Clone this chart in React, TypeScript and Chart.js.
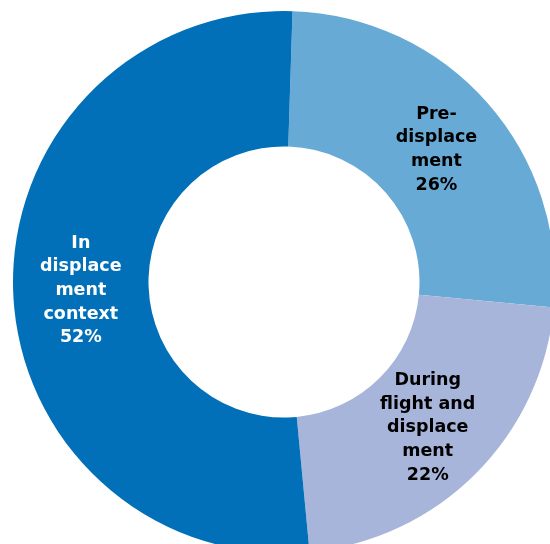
import React, { useEffect, useRef } from "react";
import { Chart, registerables } from "chart.js";

Chart.register(...registerables);

const categories: string[] = [
  "Pre-displacement",
  "During flight and displacement",
  "In displacement context",
];
const labelLines: string[][] = [
  ["Pre-", "displace", "ment"],
  ["During", "flight and", "displace", "ment"],
  ["In", "displace", "ment", "context"],
];
const shares: number[] = [26, 22, 52];
const sliceColors: string[] = ["#68AAD6", "#A8B5DA", "#0270B8"];
const labelColors: string[] = ["#000000", "#000000", "#FFFFFF"];

const SIZE = 542;
const CX = 284;
const CY = 282;

const labelPlugin = {
  id: "sliceLabels",
  afterDatasetsDraw(chart: any) {
    const ctx = chart.ctx;
    const meta = chart.getDatasetMeta(0);
    const values = chart.data.datasets[0].data as number[];
    ctx.save();
    ctx.font = "bold 17.5px 'DejaVu Sans', Verdana, sans-serif";
    ctx.textAlign = "center";
    ctx.textBaseline = "middle";
    const lh = 23.7;
    meta.data.forEach((arc: any, i: number) => {
      const p = arc.getCenterPoint();
      const lines = [...labelLines[i], `${values[i]}%`];
      const y0 = p.y + 2 - ((lines.length - 1) * lh) / 2;
      ctx.fillStyle = labelColors[i];
      lines.forEach((t, j) => ctx.fillText(t, p.x, y0 + j * lh));
    });
    ctx.restore();
  },
};

export default function App() {
  const ref = useRef<HTMLCanvasElement | null>(null);
  useEffect(() => {
    if (!ref.current) return;
    const chart = new Chart(ref.current, {
      type: "doughnut",
      data: {
        labels: categories,
        datasets: [
          {
            data: shares,
            backgroundColor: sliceColors,
            borderWidth: 0,
            hoverOffset: 0,
            offset: 0,
          },
        ],
      },
      options: {
        responsive: false,
        animation: false,
        rotation: 1.8,
        cutout: "50%",
        layout: { padding: 0 },
        events: [],
        plugins: {
          legend: { display: false },
          tooltip: { enabled: false },
          title: { display: false },
        },
      },
      plugins: [labelPlugin],
    });
    return () => chart.destroy();
  }, []);

  return (
    <div
      style={{
        position: "fixed",
        left: 0,
        top: 0,
        width: 550,
        height: 544,
        overflow: "hidden",
        background: "#ffffff",
      }}
    >
      <canvas
        ref={ref}
        width={SIZE}
        height={SIZE}
        style={{
          position: "absolute",
          left: CX - SIZE / 2,
          top: CY - SIZE / 2,
          width: SIZE,
          height: SIZE,
        }}
      />
    </div>
  );
}
